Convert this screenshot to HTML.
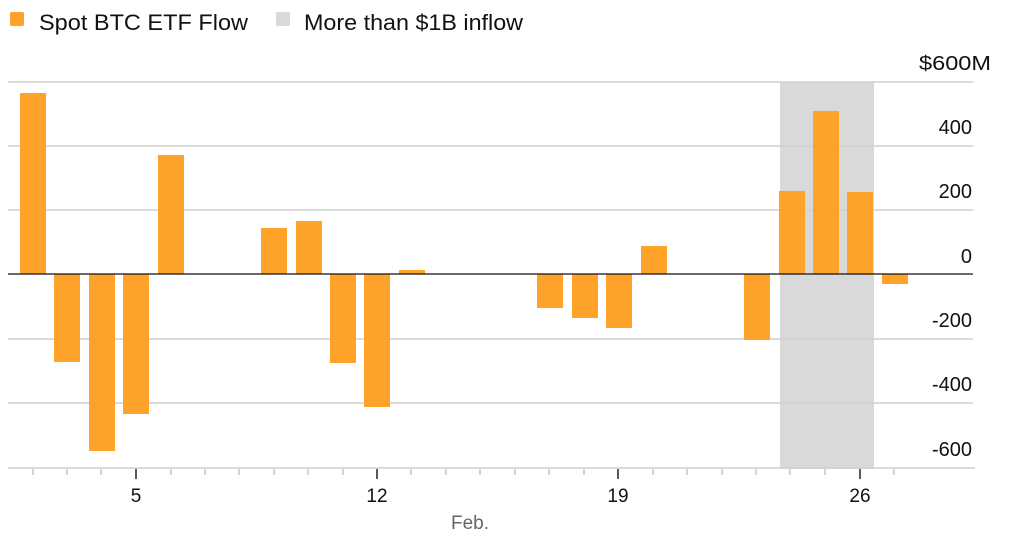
<!DOCTYPE html>
<html><head><meta charset="utf-8"><style>
html,body{margin:0;padding:0;background:#fff;}
svg{display:block;font-family:"Liberation Sans",Arial,sans-serif;}
</style></head><body>
<svg width="1024" height="553" viewBox="0 0 1024 553" xmlns="http://www.w3.org/2000/svg">
<rect x="10" y="12" width="14" height="14" rx="2" fill="#ffa22a"/>
<text x="39" y="30" font-size="22" fill="#111" textLength="209" lengthAdjust="spacingAndGlyphs">Spot BTC ETF Flow</text>
<rect x="276" y="12" width="14" height="14" rx="2" fill="#d9d9d9"/>
<text x="304" y="30" font-size="22" fill="#111" textLength="219" lengthAdjust="spacingAndGlyphs">More than $1B inflow</text>
<rect x="780" y="82" width="94" height="387" fill="#d9d9d9"/>
<g stroke="#cfcfcf" stroke-width="1.5">
<line x1="8" x2="973" y1="82" y2="82"/>
<line x1="8" x2="973" y1="146" y2="146"/>
<line x1="8" x2="973" y1="210" y2="210"/>
<line x1="8" x2="973" y1="339" y2="339"/>
<line x1="8" x2="973" y1="403" y2="403"/>
<line x1="8" x2="975" y1="468" y2="468"/>
</g>
<g fill="#ffa22a">
<rect x="20" y="93" width="26" height="181"/>
<rect x="54" y="274" width="26" height="88"/>
<rect x="89" y="274" width="26" height="177"/>
<rect x="123" y="274" width="26" height="140"/>
<rect x="158" y="155" width="26" height="119"/>
<rect x="261" y="228" width="26" height="46"/>
<rect x="296" y="221" width="26" height="53"/>
<rect x="330" y="274" width="26" height="89"/>
<rect x="364" y="274" width="26" height="133"/>
<rect x="399" y="270" width="26" height="4"/>
<rect x="537" y="274" width="26" height="34"/>
<rect x="572" y="274" width="26" height="44"/>
<rect x="606" y="274" width="26" height="54"/>
<rect x="641" y="246" width="26" height="28"/>
<rect x="744" y="274" width="26" height="66"/>
<rect x="779" y="191" width="26" height="83"/>
<rect x="813" y="111" width="26" height="163"/>
<rect x="847" y="192" width="26" height="82"/>
<rect x="882" y="274" width="26" height="10"/>
</g>
<line x1="8" x2="973" y1="274" y2="274" stroke="#111" stroke-width="1.3"/>
<g stroke="#bbb" stroke-width="1.3">
<line x1="33" x2="33" y1="469" y2="475"/><line x1="67" x2="67" y1="469" y2="475"/><line x1="101" x2="101" y1="469" y2="475"/>
<line x1="171" x2="171" y1="469" y2="475"/><line x1="205" x2="205" y1="469" y2="475"/><line x1="239" x2="239" y1="469" y2="475"/><line x1="274" x2="274" y1="469" y2="475"/><line x1="308" x2="308" y1="469" y2="475"/><line x1="343" x2="343" y1="469" y2="475"/>
<line x1="411" x2="411" y1="469" y2="475"/><line x1="446" x2="446" y1="469" y2="475"/><line x1="480" x2="480" y1="469" y2="475"/><line x1="515" x2="515" y1="469" y2="475"/><line x1="549" x2="549" y1="469" y2="475"/><line x1="584" x2="584" y1="469" y2="475"/>
<line x1="653" x2="653" y1="469" y2="475"/><line x1="687" x2="687" y1="469" y2="475"/><line x1="722" x2="722" y1="469" y2="475"/><line x1="756" x2="756" y1="469" y2="475"/><line x1="790" x2="790" y1="469" y2="475"/><line x1="825" x2="825" y1="469" y2="475"/>
<line x1="894" x2="894" y1="469" y2="475"/>
</g>
<g stroke="#222" stroke-width="1.5">
<line x1="136" x2="136" y1="469" y2="479"/><line x1="377" x2="377" y1="469" y2="479"/><line x1="618" x2="618" y1="469" y2="479"/><line x1="860" x2="860" y1="469" y2="479"/>
</g>
<g font-size="19" fill="#111" text-anchor="middle">
<text x="136" y="502">5</text><text x="377" y="502">12</text><text x="618" y="502">19</text><text x="860" y="502">26</text>
</g>
<text x="470" y="529" font-size="19" fill="#666" text-anchor="middle">Feb.</text>
<g font-size="20" fill="#111" text-anchor="end">
<text x="991" y="70" textLength="72" lengthAdjust="spacingAndGlyphs">$600M</text>
<text x="972" y="134">400</text>
<text x="972" y="198">200</text>
<text x="972" y="263">0</text>
<text x="972" y="327">-200</text>
<text x="972" y="391">-400</text>
<text x="972" y="456">-600</text>
</g>
</svg>
</body></html>
